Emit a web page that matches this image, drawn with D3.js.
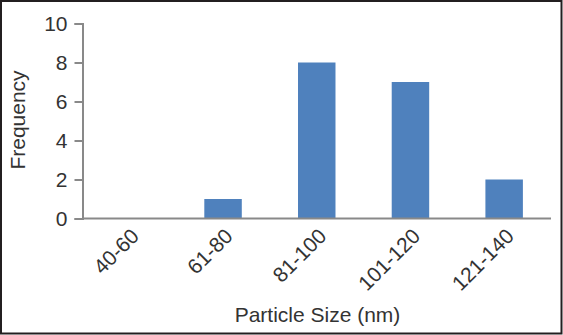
<!DOCTYPE html>
<html><head><meta charset="utf-8">
<script src="https://cdn.jsdelivr.net/npm/d3@7"></script>
<style>body{margin:0;background:#fff}svg{display:block}</style>
</head><body>
<script>
const categories = ["40-60","61-80","81-100","101-120","121-140"];
const frequency = [0,1,8,7,2];
const yTicks = [0,2,4,6,8,10];

const W=563,H=335;
const svg=d3.select("body").append("svg").attr("width",W).attr("height",H);
svg.append("rect").attr("x",1).attr("y",1).attr("width",W-2.5).attr("height",H-2.5)
  .attr("fill","#fff").attr("stroke","#231f20").attr("stroke-width",2);

const x=d3.scaleBand().domain(categories).range([82.5,551]).paddingInner(0.6).paddingOuter(0.3);
const y=d3.scaleLinear().domain([0,10]).range([218.5,23.5]);
const font="'Liberation Sans', Arial, sans-serif";
const txt="#333";
const fs=21;

svg.append("g").selectAll("rect").data(categories).join("rect")
  .attr("x",d=>x(d)).attr("width",x.bandwidth())
  .attr("y",(d,i)=>y(frequency[i])).attr("height",(d,i)=>y(0)-y(frequency[i]))
  .attr("fill","#4f81bd");

const ya=svg.append("g").attr("transform","translate(82.5,0)")
  .call(d3.axisLeft(y).tickValues(yTicks).tickSize(8).tickPadding(6));
ya.select(".domain").attr("stroke","#898989").attr("stroke-width",2);
ya.selectAll(".tick line").attr("stroke","#898989").attr("stroke-width",2);
ya.selectAll("text").attr("font-family",font).attr("font-size",fs).attr("fill",txt)
  .attr("x",-15).attr("dy","0.33em");

const xa=svg.append("g").attr("transform","translate(0,218.5)")
  .call(d3.axisBottom(x).tickSize(0).tickPadding(0).tickSizeOuter(0));
xa.select(".domain").attr("stroke","#898989").attr("stroke-width",2).attr("d","M82.5,0H551");
xa.selectAll("text").attr("font-family",font).attr("font-size",fs).attr("fill",txt)
  .attr("text-anchor","end").attr("x",0).attr("y",0).attr("dy",0)
  .attr("transform","translate(11,19) rotate(-45)");

svg.append("text").attr("x",317.5).attr("y",322).attr("text-anchor","middle")
  .attr("font-family",font).attr("font-size",fs).attr("fill",txt).text("Particle Size (nm)");
svg.append("text").attr("transform","translate(25,120) rotate(-90)").attr("text-anchor","middle")
  .attr("font-family",font).attr("font-size",fs).attr("fill",txt).text("Frequency");
</script>
</body></html>
